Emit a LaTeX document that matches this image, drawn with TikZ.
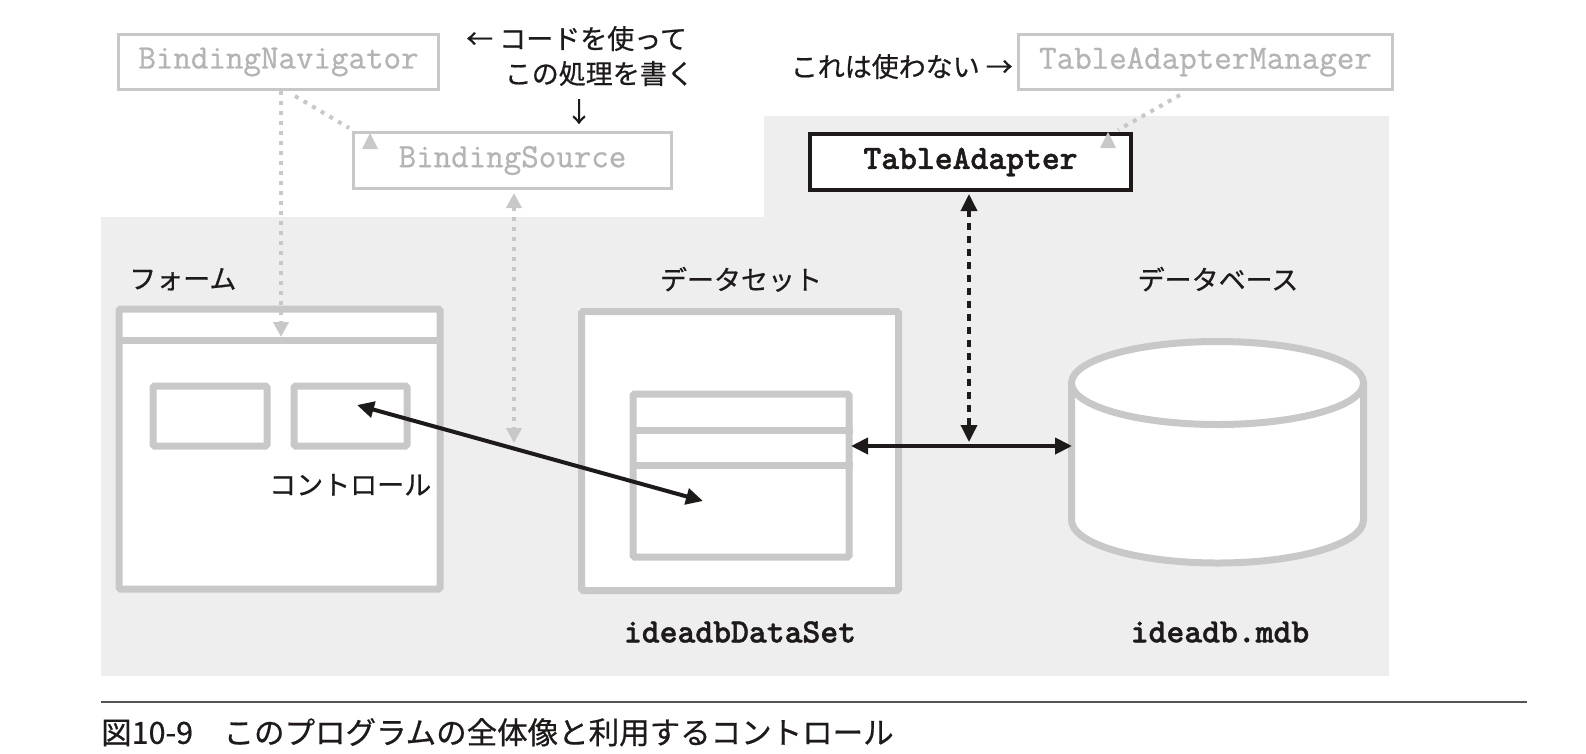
\documentclass[tikz,border=0pt]{standalone}
\usepackage{fontspec}
\setmainfont{Noto Sans CJK JP}
\newfontfamily\jpf{Noto Sans CJK JP}[FakeBold=0.6]
\newfontfamily\gmono{Latin Modern Mono}[FakeBold=0.8]
\newfontfamily\bmono{Latin Modern Mono Light}[BoldFeatures={FakeBold=1.2}]
\usetikzlibrary{arrows.meta,calc}
\definecolor{bgc}{HTML}{EEEEEE}
\definecolor{lg}{HTML}{C8C8C8}
\definecolor{gtext}{HTML}{B4B4B4}
\definecolor{ink}{HTML}{1E1A1A}
\definecolor{rulec}{HTML}{555555}
\begin{document}
\begin{tikzpicture}[x=1pt,y=-1pt,
  gbox/.style={draw=lg, line width=3pt, fill=white, minimum height=55pt, inner sep=0pt,
    font=\gmono\fontsize{34}{34}\selectfont, text=gtext},
  bbox/.style={draw=ink, line width=3.8pt, fill=white, minimum width=321pt, minimum height=56pt, inner sep=0pt,
    font=\bmono\bfseries\fontsize{34}{34}\selectfont, text=ink},
  gframe/.style={draw=lg, line width=7pt, fill=white, rounded corners=1.5pt},
  jp/.style={font=\jpf\fontsize{27}{27}\selectfont, text=ink, inner sep=0pt, text height=0.88em, text depth=0.12em},
  mono/.style={font=\bmono\bfseries\fontsize{34}{34}\selectfont, text=ink, inner sep=0pt},
  gdot/.style={draw=lg, line width=4pt, dash pattern=on 4pt off 6pt},
  bdot/.style={draw=ink, line width=3.5pt, dash pattern=on 7pt off 6pt},
  gtip/.tip={Triangle[width=15pt,length=15pt,fill=lg]},
  btip/.tip={Triangle[width=16pt,length=17pt]},
  barrow/.style={draw=ink, line width=4pt, {btip}-{btip}}
]
\useasboundingbox (0,0) rectangle (1586,753);
% background
\fill[bgc] (101,217) -- (764,217) -- (764,116) -- (1389,116) -- (1389,676) -- (101,676) -- cycle;

% top boxes
\node[gbox, minimum width=320pt] (nav) at (278.5,62) {BindingNavigator};
\node[gbox, minimum width=318pt, minimum height=56pt] (bs) at (512.5,160.5) {BindingSource};
\node[gbox, minimum width=374pt] (tam) at (1205.5,62) {TableAdapterManager};
\node[bbox] (ta) at (970.5,162) {TableAdapter};

% annotations
\node[jp, anchor=west] (note1) at (466,45) {← コードを使って};
\node[jp, anchor=east] (note2) at (694,80) {この処理を書く};
\node[jp] (note3) at (579,118) {↓};
\node[jp, anchor=east] (note4) at (1013,73) {これは使わない →};

% form
\node[jp, anchor=west] (formlbl) at (129,285) {フォーム};
\draw[gframe] (119,309) rectangle (440,589);
\draw[draw=lg, line width=7pt] (119,340) -- (440,340);
\node[gframe, minimum width=114pt, minimum height=60pt] (ctl1) at (210,416) {};
\node[gframe, minimum width=113pt, minimum height=60pt] (ctl2) at (350.5,416) {};
\node[jp, anchor=west] (ctllbl) at (269,491) {コントロール};

% dataset
\node[jp] (dslbl) at (741,286) {データセット};
\node[gframe, minimum width=317pt, minimum height=279pt] (ds) at (740,451) {};
\node[gframe, minimum width=216pt, minimum height=163pt] (tbl) at (741,475.5) {};
\draw[draw=lg, line width=7pt] (tbl.west |- 0,430) -- (tbl.east |- 0,430);
\draw[draw=lg, line width=7pt] (tbl.west |- 0,465) -- (tbl.east |- 0,465);
\node[mono] (dsname) at (740,632) {ideadbDataSet};

% database cylinder
\node[jp] (dblbl) at (1218,286) {データベース};
\fill[white] (1071.5,383) -- (1071.5,520) .. controls (1071.5,543.7) and (1136.9,563) .. (1217.5,563)
  .. controls (1298.1,563) and (1363.5,543.7) .. (1363.5,520) -- (1363.5,383) -- cycle;
\draw[draw=lg, line width=7pt] (1071.5,383) -- (1071.5,520) .. controls (1071.5,543.7) and (1136.9,563) .. (1217.5,563)
  .. controls (1298.1,563) and (1363.5,543.7) .. (1363.5,520) -- (1363.5,383);
\draw[draw=lg, line width=7pt, fill=white] (1217.5,383) ellipse [x radius=146, y radius=41.5];
\coordinate (db) at (1072,446);
\node[mono] (dbname) at (1220,632) {ideadb.mdb};

% gray dotted connectors
\coordinate (formtip) at (281,337);
\draw[gdot, -{gtip}] (nav.south -| formtip) -- (formtip);
\coordinate (bsup) at (514,193);
\coordinate (bsdown) at (514,443);
\draw[gdot, {gtip}-{gtip}] (bsup) -- (bsdown);
\coordinate (nd1) at (295,96);
\coordinate (nd2) at (349,128);
\draw[gdot] (nd1) -- (nd2);
\fill[lg] (370,133) -- (378,149) -- (362,149) -- cycle;
\coordinate (td1) at (1180,95);
\coordinate (td2) at (1118,130);
\draw[gdot] (td1) -- (td2);
\fill[lg] (1108,132) -- (1116,148) -- (1100,148) -- cycle;

% black connectors
\coordinate (taup) at (969,194);
\coordinate (tadown) at (969,442);
\draw[bdot, {btip}-{btip}] (taup) -- (tadown);
\coordinate (tblR) at (851,446);
\draw[barrow] (tblR) -- (db);
\coordinate (c2pt) at (357,405);
\coordinate (dspt) at (703,501);
\draw[barrow] (c2pt) -- (dspt);

% caption
\coordinate (r1) at (101,702);
\coordinate (r2) at (1527,702);
\draw[draw=rulec, line width=2pt] (r1) -- (r2);
\node[jp, font=\jpf\fontsize{30.5}{30.5}\selectfont, anchor=west] (cap) at (101,740) {図10-9　このプログラムの全体像と利用するコントロール};
\end{tikzpicture}
\end{document}
